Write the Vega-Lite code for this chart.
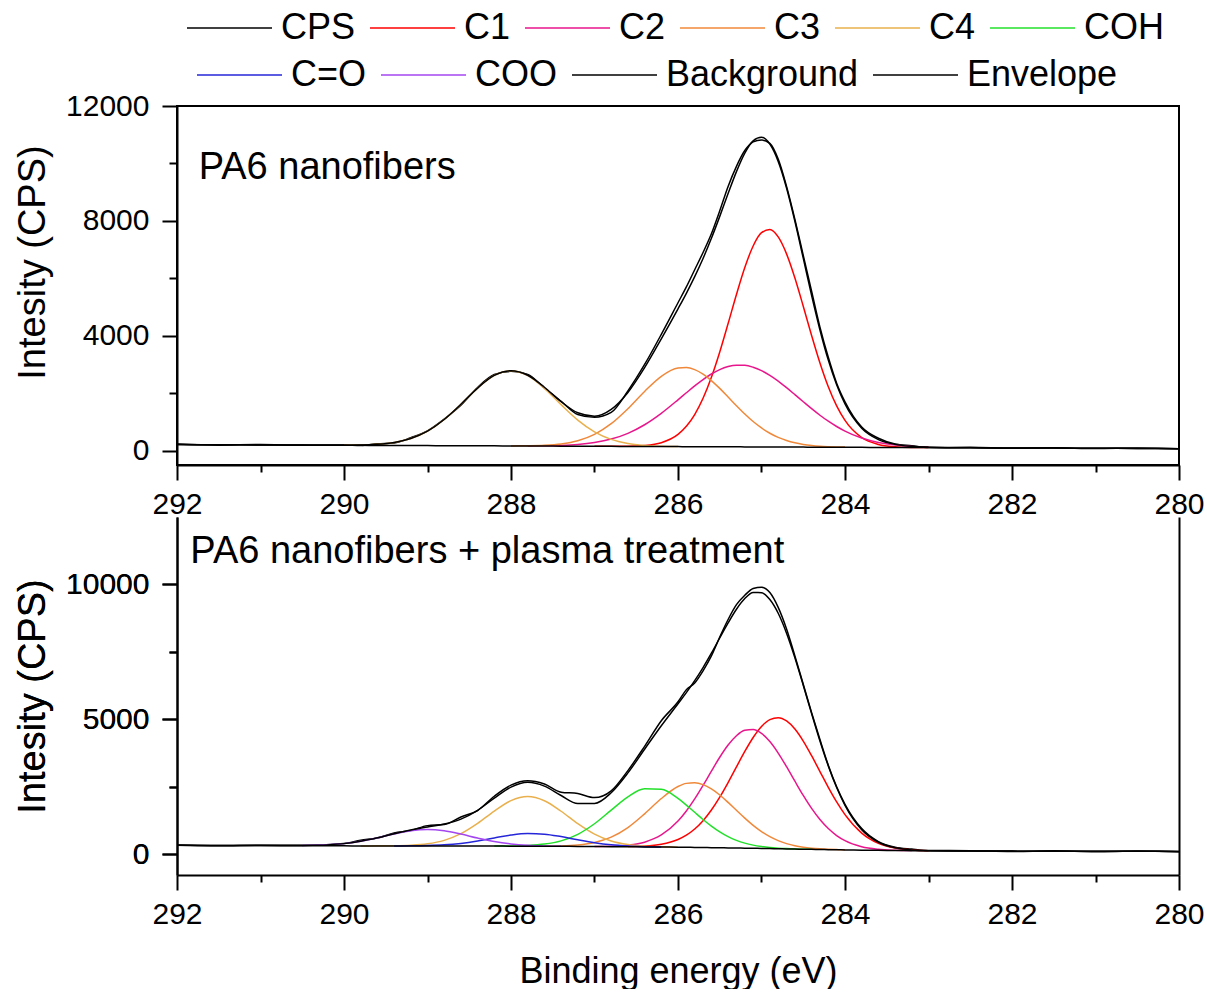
{
  "$schema": "https://vega.github.io/schema/vega-lite/v6.json",
  "padding": {"left": 13, "top": 10, "right": 5, "bottom": 0},
  "config": {
    "font": "Liberation Sans",
    "view": {"stroke": "black", "strokeWidth": 2},
    "axis": {
      "domainColor": "black", "domainWidth": 2, "tickColor": "black", "tickWidth": 2,
      "labelFont": "Liberation Sans", "labelFontSize": 30, "labelColor": "black",
      "titleFont": "Liberation Sans", "titleFontSize": 38, "titleFontWeight": "normal", "titleColor": "black",
      "grid": false, "labelFlush": false, "labelOverlap": false, "labelBound": false
    },
    "legend": {
      "labelFont": "Liberation Sans", "labelFontSize": 36, "labelColor": "black", "labelLimit": 0,
      "padding": 0
    }
  },
  "datasets": {
    "top": [
      {"x":292.0,"CPS":230,"Background":210,"Envelope":210},
      {"x":291.5,"CPS":190,"Background":204,"Envelope":204},
      {"x":291.0,"CPS":215,"Background":198,"Envelope":198},
      {"x":290.5,"CPS":185,"Background":193,"Envelope":193},
      {"x":290.0,"CPS":200,"C4":191,"Background":187,"Envelope":191},
      {"x":289.8,"CPS":175,"C4":196,"Background":184,"Envelope":196},
      {"x":289.6,"CPS":240,"C4":220,"Background":182,"Envelope":220},
      {"x":289.4,"CPS":270,"C4":283,"Background":180,"Envelope":283},
      {"x":289.2,"CPS":450,"C4":420,"Background":177,"Envelope":420},
      {"x":289.0,"CPS":690,"C4":677,"Background":175,"Envelope":677},
      {"x":288.8,"CPS":1100,"C4":1083,"Background":173,"Envelope":1083},
      {"x":288.6,"CPS":1580,"C4":1615,"Background":170,"Envelope":1615},
      {"x":288.4,"CPS":2200,"C4":2179,"Background":168,"Envelope":2179},
      {"x":288.2,"CPS":2650,"C4":2618,"Background":166,"Envelope":2618},
      {"x":288.0,"CPS":2760,"C3":165,"C4":2783,"Background":163,"Envelope":2785},
      {"x":287.8,"CPS":2650,"C2":165,"C3":170,"C4":2613,"Background":161,"Envelope":2626},
      {"x":287.6,"CPS":2180,"C2":170,"C3":186,"C4":2170,"Background":159,"Envelope":2208},
      {"x":287.4,"CPS":1720,"C2":183,"C3":234,"C4":1601,"Background":156,"Envelope":1706},
      {"x":287.2,"CPS":1260,"C2":215,"C3":346,"C4":1064,"Background":154,"Envelope":1317},
      {"x":287.0,"CPS":1160,"C1":152,"C2":282,"C3":568,"C4":654,"Background":152,"Envelope":1200},
      {"x":286.8,"CPS":1330,"C1":150,"C2":402,"C3":939,"C4":392,"Background":149,"Envelope":1436},
      {"x":286.6,"CPS":2080,"C1":154,"C2":603,"C3":1461,"C4":250,"Background":147,"Envelope":2027},
      {"x":286.4,"CPS":3000,"C1":179,"C2":902,"C3":2061,"C4":183,"Background":145,"Envelope":2890},
      {"x":286.2,"CPS":4050,"C1":275,"C2":1299,"C3":2589,"C4":154,"Background":142,"Envelope":3891},
      {"x":286.0,"CPS":5150,"C1":565,"C2":1770,"C3":2878,"C4":144,"Background":140,"Envelope":4937},
      {"x":285.9,"CPS":5700,"C1":847,"C2":2015,"C3":2895,"Background":139,"Envelope":5479},
      {"x":285.8,"CPS":6300,"C1":1258,"C2":2255,"C3":2822,"Background":138,"Envelope":6059},
      {"x":285.7,"CPS":6900,"C1":1823,"C2":2475,"C3":2665,"Background":136,"Envelope":6691},
      {"x":285.6,"CPS":7550,"C1":2555,"C2":2668,"C3":2440,"Background":135,"Envelope":7393},
      {"x":285.5,"CPS":8350,"C1":3437,"C2":2821,"C3":2167,"Background":134,"Envelope":8157},
      {"x":285.4,"CPS":9200,"C1":4425,"C2":2927,"C3":1868,"Background":133,"Envelope":8954},
      {"x":285.3,"CPS":9900,"C1":5439,"C2":2977,"C3":1564,"Background":132,"Envelope":9716},
      {"x":285.2,"CPS":10450,"C1":6377,"C2":2971,"C3":1275,"Background":131,"Envelope":10361},
      {"x":285.1,"CPS":10750,"C1":7126,"C2":2905,"C3":1013,"Background":129,"Envelope":10786},
      {"x":285.0,"CPS":10820,"C1":7589,"C2":2788,"C3":789,"Background":128,"Envelope":10910},
      {"x":284.9,"CPS":10700,"C1":7699,"C2":2624,"C3":605,"Background":127,"Envelope":10674},
      {"x":284.8,"CPS":10150,"C1":7441,"C2":2423,"C3":460,"Background":126,"Envelope":10072},
      {"x":284.7,"CPS":9200,"C1":6851,"C2":2194,"C3":351,"Background":125,"Envelope":9146},
      {"x":284.6,"CPS":8050,"C1":6011,"C2":1951,"C3":272,"Background":124,"Envelope":7986},
      {"x":284.5,"CPS":6800,"C1":5027,"C2":1704,"C3":217,"Background":123,"Envelope":6702},
      {"x":284.4,"CPS":5550,"C1":4009,"C2":1461,"C3":179,"Background":121,"Envelope":5407},
      {"x":284.3,"CPS":4300,"C1":3054,"C2":1233,"C3":154,"Background":120,"Envelope":4201},
      {"x":284.2,"CPS":3250,"C1":2226,"C2":1024,"C3":139,"Background":119,"Envelope":3151},
      {"x":284.1,"CPS":2350,"C1":1559,"C2":840,"C3":129,"Background":118,"Envelope":2292},
      {"x":284.0,"CPS":1700,"C1":1055,"C2":681,"C3":123,"Background":117,"Envelope":1625},
      {"x":283.8,"CPS":820,"C1":457,"C2":438,"Background":114,"Envelope":781},
      {"x":283.6,"CPS":430,"C1":215,"C2":283,"Background":112,"Envelope":386},
      {"x":283.4,"CPS":230,"C1":135,"C2":193,"Background":110,"Envelope":218},
      {"x":283.2,"CPS":170,"C1":112,"C2":145,"Background":107,"Envelope":150},
      {"x":283.0,"CPS":110,"C1":106,"C2":121,"Background":105,"Envelope":122},
      {"x":282.5,"CPS":115,"Background":99,"Envelope":99},
      {"x":282.0,"CPS":80,"Background":93,"Envelope":93},
      {"x":281.5,"CPS":100,"Background":88,"Envelope":88},
      {"x":281.0,"CPS":75,"Background":82,"Envelope":82},
      {"x":280.5,"CPS":90,"Background":76,"Envelope":76},
      {"x":280.0,"CPS":65,"Background":70,"Envelope":70}
    ],
    "bottom": [
      {"x":292.0,"CPS":340,"Background":330,"Envelope":330},
      {"x":291.5,"CPS":310,"Background":325,"Envelope":325},
      {"x":291.0,"CPS":335,"Background":320,"Envelope":320},
      {"x":290.5,"CPS":330,"COO":322,"Background":315,"Envelope":322},
      {"x":290.0,"CPS":400,"COO":393,"Background":310,"Envelope":393},
      {"x":289.8,"CPS":520,"COO":479,"C4":309,"Background":309,"Envelope":479},
      {"x":289.6,"CPS":600,"COO":605,"C4":310,"Background":308,"Envelope":607},
      {"x":289.4,"CPS":790,"COO":750,"C4":314,"C=O":308,"Background":307,"Envelope":758},
      {"x":289.2,"CPS":880,"COO":869,"C4":332,"C=O":311,"Background":306,"Envelope":900},
      {"x":289.0,"CPS":1060,"COO":915,"C4":386,"C=O":321,"Background":305,"Envelope":1012},
      {"x":288.8,"CPS":1100,"COO":867,"C4":514,"C=O":347,"Background":304,"Envelope":1120},
      {"x":288.6,"CPS":1380,"COO":746,"C4":762,"C=O":401,"Background":303,"Envelope":1303},
      {"x":288.4,"CPS":1620,"COO":599,"C4":1144,"C=O":490,"Background":302,"Envelope":1629},
      {"x":288.2,"CPS":2150,"COO":471,"C4":1601,"C=O":604,"COH":303,"Background":301,"Envelope":2076},
      {"x":288.0,"CPS":2560,"COO":383,"C4":1987,"C=O":710,"COH":307,"Background":300,"Envelope":2487},
      {"x":287.8,"CPS":2720,"COO":332,"C4":2138,"C=O":765,"COH":324,"Background":298,"Envelope":2665},
      {"x":287.6,"CPS":2600,"COO":308,"C4":1983,"C=O":744,"COH":375,"C3":300,"Background":296,"Envelope":2526},
      {"x":287.4,"CPS":2300,"COO":297,"C4":1593,"C=O":653,"COH":496,"C3":309,"Background":293,"Envelope":2176},
      {"x":287.2,"CPS":2250,"C4":1131,"C=O":533,"COH":738,"C3":342,"Background":289,"Envelope":1877},
      {"x":287.0,"CPS":2100,"C4":744,"C=O":424,"COH":1130,"C3":433,"C2":289,"Background":285,"Envelope":1880},
      {"x":286.8,"CPS":2350,"C4":491,"C=O":347,"COH":1636,"C3":633,"C2":298,"Background":281,"Envelope":2281},
      {"x":286.6,"CPS":3100,"C4":358,"C=O":304,"COH":2128,"C3":988,"C2":336,"C1":285,"Background":277,"Envelope":3014},
      {"x":286.4,"CPS":4000,"C4":298,"C=O":281,"COH":2427,"C3":1497,"C2":447,"C1":303,"Background":272,"Envelope":3893},
      {"x":286.2,"CPS":4950,"C4":273,"C=O":269,"COH":2404,"C3":2064,"C2":713,"C1":368,"Background":266,"Envelope":4761},
      {"x":286.0,"CPS":5650,"C4":262,"COH":2067,"C3":2509,"C2":1231,"C1":546,"Background":260,"Envelope":5575},
      {"x":285.9,"CPS":6100,"COH":1821,"C3":2626,"C2":1603,"C1":707,"Background":256,"Envelope":5989},
      {"x":285.8,"CPS":6350,"COH":1554,"C3":2650,"C2":2049,"C1":936,"Background":252,"Envelope":6433},
      {"x":285.7,"CPS":6800,"COH":1288,"C3":2580,"C2":2550,"C1":1245,"Background":248,"Envelope":6919},
      {"x":285.6,"CPS":7350,"COH":1043,"C3":2422,"C2":3079,"C1":1639,"Background":244,"Envelope":7451},
      {"x":285.5,"CPS":8050,"COH":830,"C3":2196,"C2":3594,"C1":2115,"Background":240,"Envelope":8015},
      {"x":285.4,"CPS":8700,"COH":653,"C3":1921,"C2":4047,"C1":2658,"Background":235,"Envelope":8574},
      {"x":285.3,"CPS":9250,"COH":515,"C3":1628,"C2":4392,"C1":3237,"Background":230,"Envelope":9082},
      {"x":285.2,"CPS":9600,"COH":411,"C3":1338,"C2":4592,"C1":3810,"Background":225,"Envelope":9476},
      {"x":285.1,"CPS":9850,"COH":337,"C3":1071,"C2":4622,"C1":4328,"Background":220,"Envelope":9698},
      {"x":285.0,"CPS":9900,"COH":286,"C3":840,"C2":4479,"C1":4736,"Background":215,"Envelope":9696},
      {"x":284.9,"CPS":9700,"COH":250,"C3":651,"C2":4176,"C1":4991,"Background":209,"Envelope":9441},
      {"x":284.8,"CPS":9150,"COH":226,"C3":503,"C2":3750,"C1":5062,"Background":203,"Envelope":8932},
      {"x":284.7,"CPS":8350,"COH":209,"C3":392,"C2":3244,"C1":4941,"Background":197,"Envelope":8195},
      {"x":284.6,"CPS":7350,"COH":197,"C3":313,"C2":2706,"C1":4641,"Background":191,"Envelope":7284},
      {"x":284.5,"CPS":6300,"COH":188,"C3":259,"C2":2179,"C1":4195,"Background":185,"Envelope":6266},
      {"x":284.4,"CPS":5250,"COH":181,"C3":223,"C2":1699,"C1":3652,"Background":180,"Envelope":5215},
      {"x":284.3,"CPS":4250,"C3":199,"C2":1287,"C1":3064,"Background":175,"Envelope":4200},
      {"x":284.2,"CPS":3300,"C3":183,"C2":952,"C1":2479,"Background":170,"Envelope":3274},
      {"x":284.1,"CPS":2500,"C3":171,"C2":693,"C1":1938,"Background":165,"Envelope":2472},
      {"x":284.0,"CPS":1850,"C3":163,"C2":503,"C1":1468,"Background":160,"Envelope":1814},
      {"x":283.8,"CPS":950,"C2":280,"C1":784,"Background":152,"Envelope":912},
      {"x":283.6,"CPS":470,"C2":185,"C1":404,"Background":144,"Envelope":445},
      {"x":283.4,"CPS":260,"C2":148,"C1":228,"Background":137,"Envelope":239},
      {"x":283.2,"CPS":190,"C2":134,"C1":158,"Background":131,"Envelope":161},
      {"x":283.0,"CPS":140,"C1":132,"Background":125,"Envelope":132},
      {"x":282.5,"CPS":130,"Background":118,"Envelope":118},
      {"x":282.0,"CPS":100,"Background":115,"Envelope":115},
      {"x":281.5,"CPS":125,"Background":112,"Envelope":112},
      {"x":281.0,"CPS":95,"Background":110,"Envelope":110},
      {"x":280.5,"CPS":115,"Background":107,"Envelope":107},
      {"x":280.0,"CPS":90,"Background":105,"Envelope":105}
    ]
  },
  "bounds": "flush",
  "spacing": 52,
  "resolve": {"scale": {"color": "shared", "stroke": "shared"}},
  "vconcat": [
    {
      "width": 1002,
      "height": 359,
      "encoding": {
        "x": {
          "field": "x", "type": "quantitative",
          "scale": {"domain": [280, 292], "reverse": true, "nice": false, "zero": false},
          "axis": {
            "title": null, "format": "d",
            "values": [280, 281, 282, 283, 284, 285, 286, 287, 288, 289, 290, 291, 292],
            "labelExpr": "datum.value % 2 === 0 ? datum.label : ''",
            "tickSize": {"condition": {"test": "datum.value % 2 === 0", "value": 15}, "value": 7},
            "labelPadding": 9
          }
        },
        "y": {
          "field": "value", "type": "quantitative",
          "scale": {"domain": [-500, 12000], "nice": false, "zero": false},
          "axis": {
            "title": "Intesity (CPS)", "format": "d",
            "values": [0, 2000, 4000, 6000, 8000, 10000, 12000],
            "labelExpr": "datum.value % 4000 === 0 ? datum.label : ''",
            "tickSize": {"condition": {"test": "datum.value % 4000 === 0", "value": 15}, "value": 8},
            "labelPadding": 13, "titlePadding": 13, "titleY": 156
          }
        }
      },
      "layer": [
        {
          "data": {"name": "top"},
          "transform": [{"fold": ["CPS", "C1", "C2", "C3", "C4", "COH"], "as": ["series", "value"]}],
          "mark": {"type": "line", "interpolate": "monotone", "strokeWidth": 1.5, "clip": true},
          "encoding": {
            "color": {
              "field": "series", "type": "nominal",
              "scale": {
                "domain": ["CPS", "C1", "C2", "C3", "C4", "COH"],
                "range": ["#000000", "#FF0000", "#E8168C", "#F0883A", "#E9B04D", "#22E02A"]
              },
              "legend": {
                "title": null, "orient": "none", "legendX": 10, "legendY": -96,
                "direction": "horizontal",
                "symbolType": "M-5,0H5", "symbolSize": 289, "symbolStrokeWidth": 1.5,
                "symbolOffset": 24.5, "labelOffset": 33.5, "columnPadding": 11
              }
            }
          }
        },
        {
          "data": {"name": "top"},
          "transform": [{"fold": ["C=O", "COO", "Background", "Envelope"], "as": ["series", "value"]}],
          "mark": {"type": "line", "interpolate": "monotone", "strokeWidth": 1.5, "clip": true},
          "encoding": {
            "stroke": {
              "field": "series", "type": "nominal",
              "scale": {
                "domain": ["C=O", "COO", "Background", "Envelope"],
                "range": ["#2626D9", "#A346F0", "#000000", "#000000"]
              },
              "legend": {
                "title": null, "orient": "none", "legendX": 20, "legendY": -49,
                "direction": "horizontal",
                "symbolType": "M-5,0H5", "symbolSize": 289, "symbolStrokeWidth": 1.5,
                "symbolOffset": 24.5, "labelOffset": 33.5, "columnPadding": 11
              }
            }
          }
        },
        {
          "data": {"values": [{"x": 291.74, "value": 9461, "label": "PA6 nanofibers"}]},
          "mark": {"type": "text", "align": "left", "baseline": "alphabetic", "fontSize": 38, "font": "Liberation Sans", "color": "black"},
          "encoding": {
            "text": {"field": "label"}
          }
        }
      ]
    },
    {
      "width": 1002,
      "height": 358,
      "view": {"stroke": null},
      "resolve": {"axis": {"y": "independent"}},
      "encoding": {
        "x": {
          "field": "x", "type": "quantitative",
          "scale": {"domain": [280, 292], "reverse": true, "nice": false, "zero": false},
          "axis": {
            "title": "Binding energy (eV)", "titleFontSize": 36, "format": "d",
            "values": [280, 281, 282, 283, 284, 285, 286, 287, 288, 289, 290, 291, 292],
            "labelExpr": "datum.value % 2 === 0 ? datum.label : ''",
            "tickSize": {"condition": {"test": "datum.value % 2 === 0", "value": 15}, "value": 7},
            "labelPadding": 9, "titlePadding": 25
          }
        }
      },
      "layer": [
        {
          "data": {"name": "bottom"},
          "transform": [{"fold": ["CPS", "C1", "C2", "C3", "C4", "COH"], "as": ["series", "value"]}],
          "mark": {"type": "line", "interpolate": "monotone", "strokeWidth": 1.5, "clip": true},
          "encoding": {
            "y": {
              "field": "value", "type": "quantitative",
              "scale": {"domain": [-770, 12500], "nice": false, "zero": false},
              "axis": {
                "orient": "left",
                "title": "Intesity (CPS)", "format": "d",
                "values": [0, 2500, 5000, 7500, 10000],
                "labelExpr": "datum.value % 5000 === 0 ? datum.label : ''",
                "tickSize": {"condition": {"test": "datum.value % 5000 === 0", "value": 15}, "value": 8},
                "labelPadding": 13, "titlePadding": 13
              }
            },
            "color": {
              "field": "series", "type": "nominal",
              "scale": {
                "domain": ["CPS", "C1", "C2", "C3", "C4", "COH"],
                "range": ["#000000", "#FF0000", "#E8168C", "#F0883A", "#E9B04D", "#22E02A"]
              },
              "legend": {
                "title": null, "orient": "none", "legendX": 10, "legendY": -96,
                "direction": "horizontal",
                "symbolType": "M-5,0H5", "symbolSize": 289, "symbolStrokeWidth": 1.5,
                "symbolOffset": 24.5, "labelOffset": 33.5, "columnPadding": 11
              }
            }
          }
        },
        {
          "data": {"name": "bottom"},
          "transform": [{"fold": ["C=O", "COO", "Background", "Envelope"], "as": ["series", "value"]}],
          "mark": {"type": "line", "interpolate": "monotone", "strokeWidth": 1.5, "clip": true},
          "encoding": {
            "y": {
              "field": "value", "type": "quantitative",
              "axis": {"orient": "right", "title": null, "labels": false, "ticks": false, "domain": true, "values": []}
            },
            "stroke": {
              "field": "series", "type": "nominal",
              "scale": {
                "domain": ["C=O", "COO", "Background", "Envelope"],
                "range": ["#2626D9", "#A346F0", "#000000", "#000000"]
              },
              "legend": {
                "title": null, "orient": "none", "legendX": 20, "legendY": -49,
                "direction": "horizontal",
                "symbolType": "M-5,0H5", "symbolSize": 289, "symbolStrokeWidth": 1.5,
                "symbolOffset": 24.5, "labelOffset": 33.5, "columnPadding": 11
              }
            }
          }
        },
        {
          "data": {"values": [{"x": 291.84, "value": 10786, "label": "PA6 nanofibers + plasma treatment"}]},
          "mark": {"type": "text", "align": "left", "baseline": "alphabetic", "fontSize": 38, "font": "Liberation Sans", "color": "black"},
          "encoding": {
            "y": {
              "field": "value", "type": "quantitative",
              "axis": {"orient": "left", "title": "Intesity (CPS)", "format": "d",
                "values": [0, 2500, 5000, 7500, 10000],
                "labelExpr": "datum.value % 5000 === 0 ? datum.label : ''",
                "tickSize": {"condition": {"test": "datum.value % 5000 === 0", "value": 15}, "value": 8},
                "labelPadding": 13, "titlePadding": 13}
            },
            "text": {"field": "label"}
          }
        }
      ]
    }
  ]
}
